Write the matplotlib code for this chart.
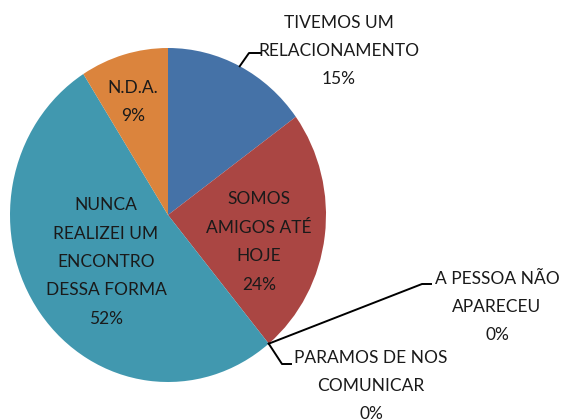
import numpy as np
import matplotlib
matplotlib.use("Agg")
import matplotlib.pyplot as plt

labels = ["TIVEMOS UM\nRELACIONAMENTO", "SOMOS\nAMIGOS ATÉ\nHOJE",
          "A PESSOA NÃO\nAPARECEU", "PARAMOS DE NOS\nCOMUNICAR",
          "NUNCA\nREALIZEI UM\nENCONTRO\nDESSA FORMA", "N.D.A."]
values = [15, 24, 0, 0, 52, 9]
colors = ["#4572A7", "#AA4643", "#89A54E", "#71588F", "#4198AF", "#DB843D"]

plt.rcParams['font.family'] = ['Lato', 'DejaVu Sans']

fig = plt.figure(figsize=(5.65, 4.19), dpi=100)
# pie area in pixels: x 10..326, y 48..382 (from top)
ax = fig.add_axes([10 / 565, 37 / 419, 316 / 565, 334 / 419])

wedges, _ = ax.pie(values, colors=colors, startangle=90, counterclock=False,
                   radius=1, wedgeprops=dict(linewidth=0))
ax.set_aspect('auto')
ax.set_xlim(-1, 1)
ax.set_ylim(-1, 1)
ax.axis('off')

# convert pixel positions of the picture to data coords
def px(x, y):
    return (x - 168) / 158, (214 - y) / 167

fs = 12.5
ls = 1.96

def label(i):
    return labels[i] + "\n%d%%" % values[i]

# labels inside the slices
for i, pos in [(1, (259, 241)), (4, (106, 261)), (5, (133, 101))]:
    ax.text(*px(*pos), label(i), ha='center', va='center', fontsize=fs,
            linespacing=ls, color='#1a1a1a')

# labels outside with leader lines: (index, text center, elbow, end)
outside = [
    (0, (339, 50), (249, 52), (261, 52)),
    (2, (497, 306), (422, 283), (431, 283)),
    (3, (371, 385), (282, 363), (291, 363)),
]
for i, tpos, elbow, end in outside:
    w = wedges[i]
    ang = np.deg2rad((w.theta1 + w.theta2) / 2)
    xs = [np.cos(ang), px(*elbow)[0], px(*end)[0]]
    ys = [np.sin(ang), px(*elbow)[1], px(*end)[1]]
    ax.plot(xs, ys, color='black', lw=1.4, clip_on=False)
    ax.text(*px(*tpos), label(i), ha='center', va='center', fontsize=fs,
            linespacing=ls, color='#1a1a1a', clip_on=False)

fig.savefig("out.png", dpi=100)
